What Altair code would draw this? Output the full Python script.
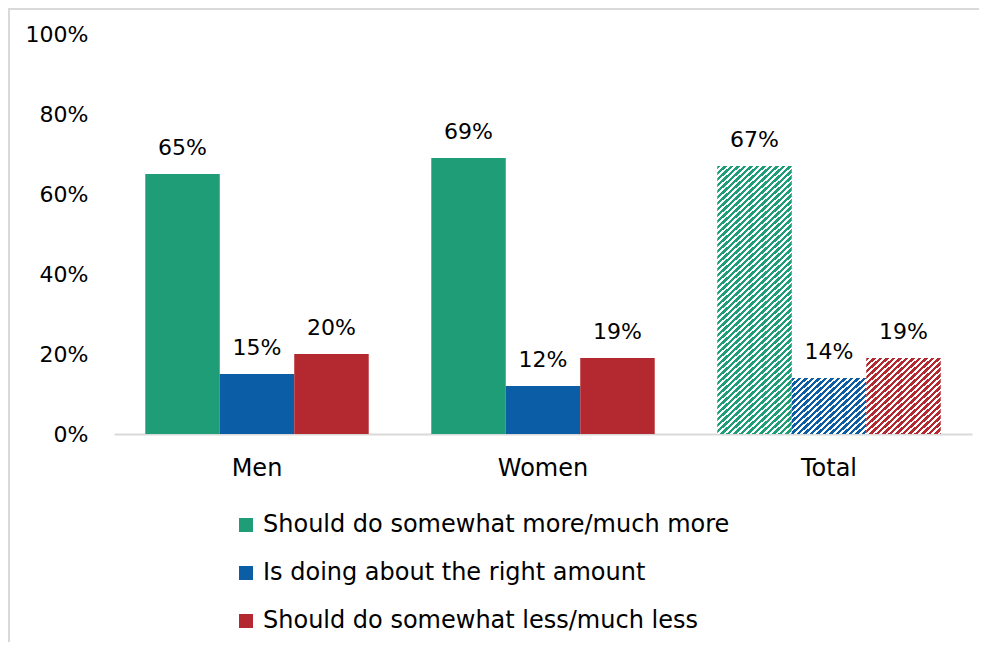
import math
import altair as alt
import pandas as pd

categories = ["Men", "Women", "Total"]
series = [
    "Should do somewhat more/much more",
    "Is doing about the right amount",
    "Should do somewhat less/much less",
]
values = {
    "Men": [65, 15, 20],
    "Women": [69, 12, 19],
    "Total": [67, 14, 19],
}
colors = ["#1E9D77", "#0B5EA6", "#B4282F"]

rows = []
for c in categories:
    for s, v in zip(series, values[c]):
        rows.append({"category": c, "series": s, "value": v, "label": f"{v}%"})
df = pd.DataFrame(rows)

FONT = "DejaVu Sans"
FS = 22
FS_WORD = 24
W, H = 858, 400
PAD_L, PAD_T = 106, 26
TOTAL_W, TOTAL_H = 971, 634
OUTER = 0.42
step_x = W / len(categories)
bar_w = step_x / (len(series) + 2 * OUTER)


def hatch(color, v, ph=6.5, pv=6.0, frac=0.55):
    w = bar_w
    h = v / 100 * H
    n = w / ph + h / pv
    A = (w / ph) / n
    B = (h / pv) / n
    S = A * A + B * B
    stops = []
    for i in range(int(math.ceil(n)) + 1):
        a = i / n
        b = (i + frac) / n
        c = (i + 1) / n
        for off, col in ((a, color), (b, color), (b, "#ffffff"), (c, "#ffffff")):
            if off <= 1:
                stops.append({"offset": round(off, 5), "color": col})
    return {"gradient": "linear", "x1": 0, "y1": 0, "x2": A / S, "y2": B / S,
            "stops": stops}


x_enc = alt.X("category:N", sort=categories, title=None,
              scale=alt.Scale(paddingInner=0, paddingOuter=0),
              axis=alt.Axis(labelFontSize=FS_WORD, labelFont=FONT, labelColor="#000000",
                            labelFontWeight="normal",
                            labelPadding=22, ticks=False, domainColor="#D9D9D9",
                            domainWidth=2, labelAngle=0))
xo_enc = alt.XOffset("series:N", sort=series,
                     scale=alt.Scale(domain=series, paddingInner=0, paddingOuter=OUTER))
y_enc = alt.Y("value:Q", title=None,
              scale=alt.Scale(domain=[0, 100], nice=False),
              axis=alt.Axis(values=[0, 20, 40, 60, 80, 100], labelExpr="datum.value + '%'",
                            labelFontSize=FS, labelFont=FONT, labelColor="#000000",
                            labelPadding=26, ticks=False, domain=False, grid=False))

base = alt.Chart(df).encode(x=x_enc, xOffset=xo_enc, y=y_enc)

solid = base.mark_bar().encode(
    color=alt.Color("series:N", sort=series,
                    scale=alt.Scale(domain=series, range=colors),
                    legend=alt.Legend(title=None, orient="none", legendX=120, legendY=479,
                                      symbolType="square", symbolSize=196,
                                      symbolStrokeWidth=0, labelFontSize=FS_WORD,
                                      labelFont=FONT, labelColor="#000000",
                                      labelOffset=5, rowPadding=24, padding=0,
                                      labelLimit=800)),
).transform_filter(alt.datum.category != "Total")

hatched_layers = []
for s, col, v in zip(series, colors, values["Total"]):
    hatched_layers.append(
        base.mark_bar().encode(fill=alt.value(hatch(col, v)))
        .transform_filter((alt.datum.category == "Total") & (alt.datum.series == s))
    )

labels = base.mark_text(fontSize=FS, font=FONT, color="#000000", baseline="alphabetic",
                        dy=-19).encode(text="label:N")

frame_df = pd.DataFrame({"k": [0]})
frame_top = alt.Chart(frame_df).mark_rule(color="#D9D9D9", strokeWidth=2).encode(
    x=alt.value(-PAD_L), x2=alt.value(TOTAL_W - PAD_L), y=alt.value(-PAD_T + 1))
frame_left = alt.Chart(frame_df).mark_rule(color="#D9D9D9", strokeWidth=2).encode(
    x=alt.value(-PAD_L + 1), y=alt.value(-PAD_T), y2=alt.value(TOTAL_H - PAD_T))

chart = alt.layer(solid, *hatched_layers, labels, frame_top, frame_left).properties(
    width=W, height=H,
    background="#ffffff",
    autosize=alt.AutoSizeParams(type="none"),
    padding={"left": PAD_L, "top": PAD_T, "right": TOTAL_W - PAD_L - W,
             "bottom": TOTAL_H - PAD_T - H},
).configure_view(stroke="transparent", strokeWidth=0)

chart.save("out.html", embed_options={"renderer": "svg", "actions": False})
